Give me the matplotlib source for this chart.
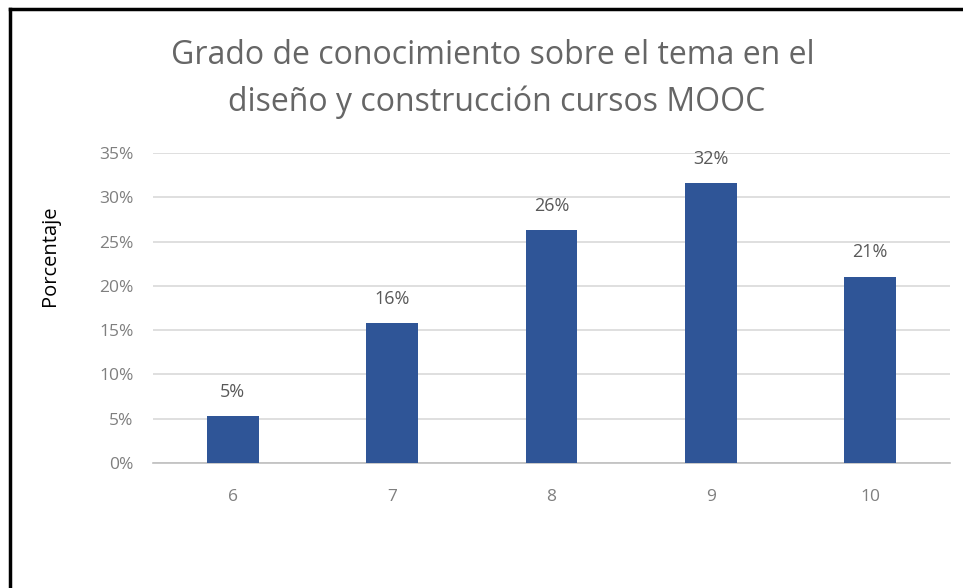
import matplotlib
matplotlib.use("Agg")
import matplotlib.pyplot as plt
from matplotlib.lines import Line2D

categories = ["6", "7", "8", "9", "10"]
values = [5.26, 15.79, 26.32, 31.58, 21.05]
labels = ["5%", "16%", "26%", "32%", "21%"]
yticks = [0, 5, 10, 15, 20, 25, 30, 35]

plt.rcParams['font.family'] = ['Open Sans', 'DejaVu Sans']

fig = plt.figure(figsize=(9.63, 5.88), dpi=100)
ax = fig.add_axes([153/963, 1-463/588, (950-153)/963, (463-153)/588])

x = range(len(categories))
ax.bar(x, values, width=0.325, color="#2F5597", zorder=3)
for xi, v, lab in zip(x, values, labels):
    ax.text(xi, v + 2.75, lab, ha="center", va="center", fontsize=13, color="#595959")

ax.set_xlim(-0.5, len(categories) - 0.5)
ax.set_ylim(0, 35)
ax.set_yticks(yticks)
ax.set_yticklabels([f"{t}%" for t in yticks])
ax.set_xticks(list(x))
ax.set_xticklabels(categories)
ax.grid(axis="y", color="#D9D9D9", linewidth=1.2, zorder=0)
for s in ["top", "right", "left"]:
    ax.spines[s].set_visible(False)
ax.spines["bottom"].set_color("#BFBFBF")
ax.spines["bottom"].set_linewidth(1.2)
ax.tick_params(axis="both", length=0, labelsize=12.5, labelcolor="#7F7F7F")
ax.tick_params(axis="y", pad=14)
ax.tick_params(axis="x", pad=19)

fig.text(493/963, 1-56/588, "Grado de conocimiento sobre el tema en el", ha="center", va="center",
         fontsize=23, color="#666666")
fig.text(497/963, 1-102/588, "diseño y construcción cursos MOOC", ha="center", va="center",
         fontsize=23, color="#666666")
fig.text(50/963, 1-256/588, "Porcentaje", rotation=90, ha="center", va="center",
         fontsize=14.5, color="#000000")

# frame border (left and top)
fig.add_artist(Line2D([10/963, 10/963], [0, 1-9/588], color="black", linewidth=2.5, transform=fig.transFigure))
fig.add_artist(Line2D([10/963, 1], [1-9/588, 1-9/588], color="black", linewidth=2.5, transform=fig.transFigure))

fig.savefig("out.png", dpi=100)
